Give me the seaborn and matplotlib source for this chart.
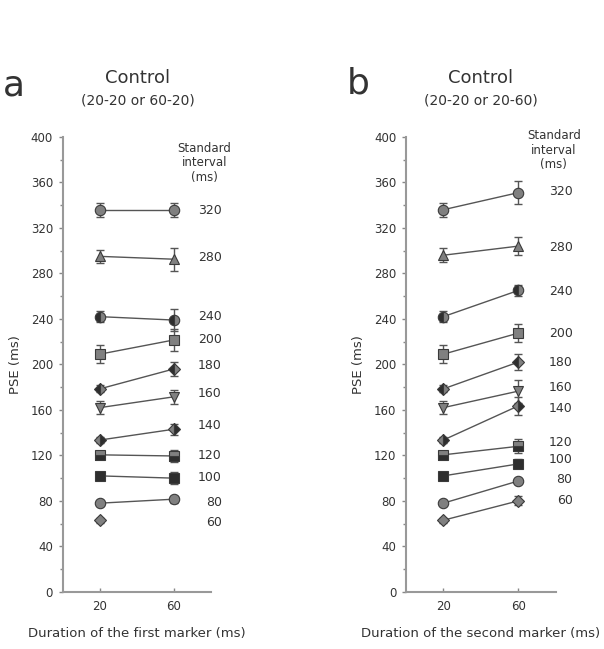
import numpy as np
import pandas as pd
import matplotlib
matplotlib.use("Agg")
import matplotlib.pyplot as plt
import seaborn as sns
from matplotlib.ticker import MultipleLocator

sns.set_theme(style="white")
plt.rcParams['font.family'] = ['DejaVu Sans']

standards = [320, 280, 240, 200, 180, 160, 140, 120, 100, 80, 60]
durations = [20, 60]

# Panel a: first marker duration varied
a_pse20 = [336, 295, 242, 209, 178.5, 162, 133.5, 120.5, 102, 78, 63]
a_pse60 = [336, 292.5, 239, 221.5, 196, 171.5, 143, 119.5, 100, 81.5, np.nan]
a_err20 = [6, 6, 5, 8, 3, 6, 3, 3, 3, 2, 2]
a_err60 = [6, 10, 10, 10, 6, 6, 5, 5, 5, 3, 0]

# Panel b: second marker duration varied
b_pse20 = [336, 296, 242, 209, 178.5, 162, 133.5, 120.5, 102, 78, 63]
b_pse60 = [351, 304, 265, 227.5, 202, 176.5, 163.5, 128, 112.5, 97.5, 80]
b_err20 = [6, 6, 5, 8, 3, 6, 3, 3, 3, 2, 2]
b_err60 = [10, 8, 5, 8, 7, 10, 8, 6, 4, 2, 4]

# label y positions (data units)
a_label_y = [335, 294, 242, 222, 199, 174, 146, 120, 100.5, 79, 61]
b_label_y = [352, 303, 264, 227, 202, 180, 161, 131, 116, 99, 80]

GRAY = "#808080"
DARK = "#2e2e2e"
EDGE = "#3a3a3a"
styles = {
    320: dict(marker="o", mfc=GRAY, fs="full", alt=GRAY, ms=7.5),
    280: dict(marker="^", mfc=GRAY, fs="full", alt=GRAY, ms=7.5),
    240: dict(marker="o", mfc=DARK, fs="left", alt=GRAY, ms=7.5),
    200: dict(marker="s", mfc=GRAY, fs="full", alt=GRAY, ms=7),
    180: dict(marker="D", mfc=DARK, fs="left", alt=GRAY, ms=6.5),
    160: dict(marker="v", mfc=GRAY, fs="full", alt=GRAY, ms=7.5),
    140: dict(marker="D", mfc=GRAY, fs="left", alt=DARK, ms=6.5),
    120: dict(marker="s", mfc=DARK, fs="bottom", alt=GRAY, ms=6.5),
    100: dict(marker="s", mfc=DARK, fs="full", alt=DARK, ms=6.5),
    80: dict(marker="o", mfc=GRAY, fs="full", alt=GRAY, ms=7.5),
    60: dict(marker="D", mfc=GRAY, fs="full", alt=GRAY, ms=6.5),
}

fig = plt.figure(figsize=(6.04, 6.49), dpi=100)
ax_a = fig.add_axes([0.104, 0.088, 0.245, 0.701])
ax_b = fig.add_axes([0.672, 0.088, 0.248, 0.701])


def draw(ax, p20, p60, e20, e60, label_y, label_x, hdr_x, hdr_y, xlabel):
    for i, s in enumerate(standards):
        st = styles[s]
        df = pd.DataFrame({"dur": durations, "pse": [p20[i], p60[i]]}).dropna()
        sns.lineplot(data=df, x="dur", y="pse", ax=ax, color="#555555", lw=1.0,
                     zorder=2, legend=False)
        errs = [e20[i], e60[i]]
        ax.errorbar(df["dur"], df["pse"], yerr=[errs[j] for j in range(len(df))],
                    fmt="none", ecolor="#555555", elinewidth=1.0, capsize=3, zorder=3)
        ax.plot(df["dur"], df["pse"], linestyle="none", marker=st["marker"],
                markersize=st["ms"], markerfacecolor=st["mfc"],
                markerfacecoloralt=st["alt"], fillstyle=st["fs"],
                markeredgecolor=EDGE, markeredgewidth=0.8, zorder=4)
        ax.text(label_x, label_y[i], str(s), ha="right", va="center", fontsize=9,
                color="#333333", clip_on=False)
    ax.text(hdr_x, hdr_y, "Standard\ninterval\n(ms)", ha="center", va="bottom",
            fontsize=8.5, color="#333333", linespacing=1.15, clip_on=False)
    ax.set_xlim(0, 80)
    ax.set_ylim(0, 400)
    ax.set_xticks(durations)
    ax.yaxis.set_major_locator(MultipleLocator(40))
    ax.yaxis.set_minor_locator(MultipleLocator(20))
    ax.tick_params(axis="y", which="major", direction="out", length=3, width=1,
                   color="#888888", labelsize=8.5, labelcolor="#333333", left=True, pad=4)
    ax.tick_params(axis="y", which="minor", direction="out", length=2, width=1,
                   color="#888888", left=True)
    ax.tick_params(axis="x", direction="in", length=3, width=1, color="#888888",
                   labelsize=8.5, labelcolor="#333333", bottom=True, pad=6)
    for sp in ["top", "right"]:
        ax.spines[sp].set_visible(False)
    for sp in ["left", "bottom"]:
        ax.spines[sp].set_color("#999999")
        ax.spines[sp].set_linewidth(1.5)
    ax.set_xlabel(xlabel, fontsize=9.5, color="#333333", labelpad=10)
    ax.set_ylabel("PSE (ms)", fontsize=9.5, color="#333333", labelpad=6)


draw(ax_a, a_pse20, a_pse60, a_err20, a_err60, a_label_y, 86, 76.5, 359,
     "Duration of the first marker (ms)")
draw(ax_b, b_pse20, b_pse60, b_err20, b_err60, b_label_y, 89, 79, 370,
     "Duration of the second marker (ms)")

fig.text(138 / 604, 1 - 78 / 649, "Control", ha="center", va="center", fontsize=13, color="#333333")
fig.text(138 / 604, 1 - 101 / 649, "(20-20 or 60-20)", ha="center", va="center", fontsize=10, color="#333333")
fig.text(481 / 604, 1 - 78 / 649, "Control", ha="center", va="center", fontsize=13, color="#333333")
fig.text(481 / 604, 1 - 101 / 649, "(20-20 or 20-60)", ha="center", va="center", fontsize=10, color="#333333")
fig.text(14 / 604, 1 - 86 / 649, "a", ha="center", va="center", fontsize=26, color="#333333")
fig.text(358 / 604, 1 - 84 / 649, "b", ha="center", va="center", fontsize=26, color="#333333")

fig.savefig("out.png", dpi=100, facecolor="white")
